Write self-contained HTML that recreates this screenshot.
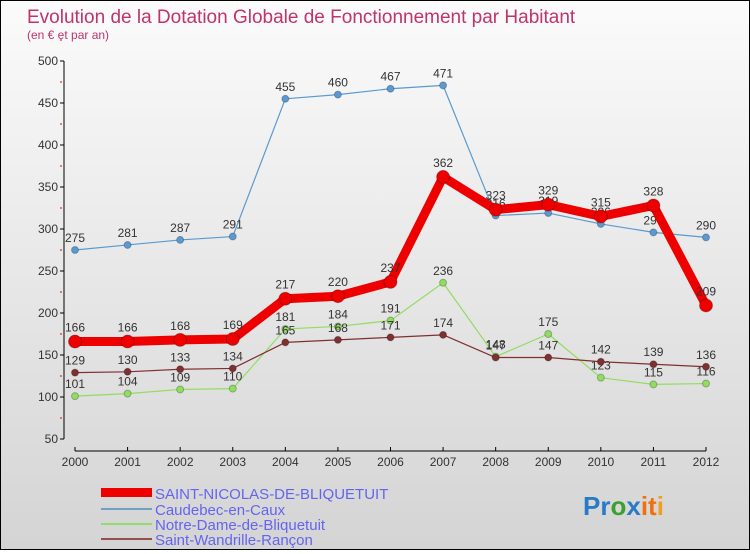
<!DOCTYPE html>
<html><head><meta charset="utf-8"><style>
body{margin:0;width:750px;height:550px;overflow:hidden;font-family:"Liberation Sans",sans-serif}
#wrap{position:relative;width:748px;height:548px;border:1px solid #000;background:linear-gradient(#fbfbfb,#d4d4d4)}
</style></head><body>
<div id="wrap">
<svg width="748" height="548" id="svg">
<text x="26" y="22" font-size="19" fill="#c0336b">Evolution de la Dotation Globale de Fonctionnement par Habitant</text>
<text x="26" y="38" font-size="12" fill="#c0336b">(en € et par an)</text>
<g id="axes"></g><g id="series"></g>
<g>
<rect x="100" y="487" width="51" height="9" fill="#e00"/>
<text x="154" y="498" font-size="15" fill="#6464f0">SAINT-NICOLAS-DE-BLIQUETUIT</text>
<rect x="100" y="507" width="51" height="2" fill="#6fa0c8"/>
<text x="154" y="514" font-size="15" fill="#6464f0">Caudebec-en-Caux</text>
<rect x="100" y="522" width="51" height="2" fill="#90dd70"/>
<text x="154" y="529" font-size="15" fill="#6464f0">Notre-Dame-de-Bliquetuit</text>
<rect x="100" y="537" width="51" height="2" fill="#905050"/>
<text x="154" y="544" font-size="15" fill="#6464f0">Saint-Wandrille-Rançon</text>
</g>
<text x="582" y="514" font-size="26" font-weight="bold"><tspan fill="#2a7ac8">Pr</tspan><tspan fill="#3aa030">o</tspan><tspan fill="#2a7ac8">x</tspan><tspan fill="#f07010">it</tspan><tspan fill="#f0a020">i</tspan></text>
</svg></div>
<script>
const years=["2000","2001","2002","2003","2004","2005","2006","2007","2008","2009","2010","2011","2012"];
const yTicks=[50,100,150,200,250,300,350,400,450,500];
const stNicolas=[166,166,168,169,217,220,237,362,323,329,315,328,209];
const caudebec=[275,281,287,291,455,460,467,471,316,319,306,296,290];
const notreDame=[101,104,109,110,181,184,191,236,148,175,123,115,116];
const stWandrille=[129,130,133,134,165,168,171,174,147,147,142,139,136];
const NS="http://www.w3.org/2000/svg";
const x=i=>74+i*(631/12);
const y=v=>60+(500-v)*(378/450);
function mk(tag,attrs,parent,text){const e=document.createElementNS(NS,tag);for(const k in attrs)e.setAttribute(k,attrs[k]);if(text!==undefined)e.textContent=text;parent.appendChild(e);return e;}
const ax=document.getElementById('axes');
const yl=mk('line',{x1:63,y1:y(500),x2:63,y2:y(50),stroke:'#000'},ax);

yTicks.forEach(v=>{const t=mk('text',{x:57,y:y(v)+4,'font-size':12,fill:'#333','text-anchor':'end'},ax,v);

mk('line',{x1:59,y1:y(v),x2:63,y2:y(v),stroke:'#000'},ax);
mk('line',{x1:59,y1:y(v+25),x2:61,y2:y(v+25),stroke:'#e00'},ax);});
const xl=mk('line',{x1:74,y1:450,x2:705,y2:450,stroke:'#000'},ax);

years.forEach((yr,i)=>{mk('line',{x1:x(i),y1:446,x2:x(i),y2:450,stroke:'#000'},ax);
const t=mk('text',{x:x(i),y:465,'font-size':12,fill:'#333','text-anchor':'middle'},ax,yr);
});
const sg=document.getElementById('series');
function draw(vals,color,w,r,name,labelBelow){
const g=mk('g',{},sg);

const p=mk('polyline',{points:vals.map((v,i)=>x(i)+','+y(v)).join(' '),fill:'none',stroke:color,'stroke-width':w,'stroke-linejoin':'round'},g);

vals.forEach((v,i)=>{const c=mk('circle',{cx:x(i),cy:y(v),r:r,fill:color,stroke:'rgba(0,0,0,0.25)'},g);

const t=mk('text',{x:x(i),y:y(v)-(labelBelow?-0:8)-(r>5?2:0),'font-size':12,fill:'#333','text-anchor':'middle'},g,v);
});}
draw(caudebec,'#5a9ad0',1.2,3.5,'caudebec');
draw(notreDame,'#90dd60',1.2,3.5,'notre-dame');
draw(stWandrille,'#803030',1.2,3.5,'saint-wandrille');
draw(stNicolas,'#ee0000',9,6.5,'saint-nicolas');
</script>
</body></html>
